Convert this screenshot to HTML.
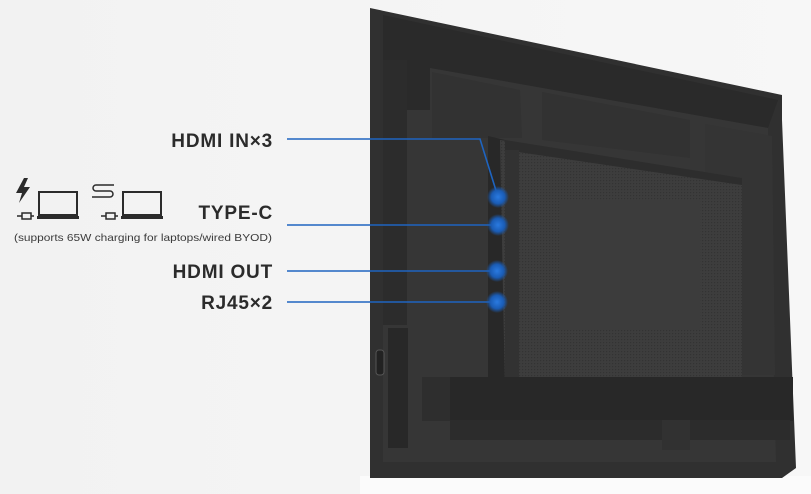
<!DOCTYPE html>
<html><head><meta charset="utf-8"><style>
html,body{margin:0;padding:0;width:811px;height:494px;overflow:hidden;background:#f3f3f3;}
svg{display:block}
</style></head><body>
<svg width="811" height="494" viewBox="0 0 811 494" xmlns="http://www.w3.org/2000/svg">
<defs>
<linearGradient id="bg" x1="0" y1="0" x2="1" y2="0"><stop offset="0" stop-color="#f2f2f2"/><stop offset="1" stop-color="#f7f7f7"/></linearGradient>
<pattern id="dots" width="3" height="3" patternUnits="userSpaceOnUse"><rect width="3" height="3" fill="#3d3d3d"/><rect width="1.2" height="1.2" fill="#333"/></pattern>
<radialGradient id="glow"><stop offset="0" stop-color="#2a7ae0"/><stop offset="0.6" stop-color="#1a5cb5"/><stop offset="1" stop-color="#1a5cb5" stop-opacity="0"/></radialGradient>
</defs>
<rect width="811" height="494" fill="url(#bg)"/>
<rect x="360" y="476" width="451" height="18" fill="#fbfbfb"/>
<polygon points="370,8 782,95 782,120 796,468 782,478 370,478" fill="#303030"/>
<polygon points="383,15 778,100 768,128 430,68 430,110 383,110" fill="#2a2a2a"/>
<polygon points="430,68 768,128 776,462 383,462 383,110 430,110" fill="#363636"/>
<polygon points="432,72 520,90 522,138 432,138" fill="#323232"/>
<polygon points="542,92 690,120 690,158 542,140" fill="#323232"/>
<polygon points="705,124 772,136 775,375 705,375" fill="#343434"/>
<rect x="383" y="60" width="24" height="265" fill="#2c2c2c"/>
<rect x="388" y="328" width="20" height="120" fill="#282828"/>
<rect x="376" y="350" width="8" height="25" rx="3" fill="#222" stroke="#555" stroke-width="1"/>
<polygon points="488,136 505,140 505,392 488,392" fill="#282828"/>
<polygon points="500,140 742,178 742,390 505,392" fill="url(#dots)"/>
<polygon points="505,140 742,178 742,185 505,150" fill="#2d2d2d"/>
<rect x="560" y="200" width="140" height="130" fill="#3c3c3c"/>
<rect x="505" y="150" width="14" height="240" fill="#323232"/>
<rect x="422" y="377" width="371" height="44" fill="#282828"/>
<rect x="422" y="377" width="28" height="44" fill="#2e2e2e"/>
<rect x="450" y="420" width="340" height="20" fill="#2c2c2c"/>
<rect x="662" y="420" width="28" height="30" fill="#313131"/>
<g stroke="#1e64c0" stroke-width="1.6" fill="none">
<polyline points="287,139 480,139 498,197"/>
<line x1="287" y1="225" x2="497" y2="225"/>
<line x1="287" y1="271" x2="497" y2="271"/>
<line x1="287" y1="302" x2="497" y2="302"/>
</g>
<g fill="url(#glow)">
<circle cx="498" cy="197" r="11"/><circle cx="498" cy="225" r="11"/><circle cx="497" cy="271" r="11"/><circle cx="497" cy="302" r="11"/>
</g>
<g font-family="Liberation Sans, sans-serif" font-weight="bold" font-size="19" fill="#2b2b2b" text-anchor="end" letter-spacing="0.8">
<text x="273" y="147">HDMI IN×3</text>
<text x="273" y="219">TYPE-C</text>
<text x="273" y="278">HDMI OUT</text>
<text x="273" y="309">RJ45×2</text>
</g>
<text x="14" y="241" font-family="Liberation Sans, sans-serif" font-size="10.5" fill="#3a3a3a" textLength="258" lengthAdjust="spacingAndGlyphs">(supports 65W charging for laptops/wired BYOD)</text>
<g fill="#2b2b2b" stroke="none">
<polygon points="24,178 16,193 22,193 19,203 30,187 24,187 28,178"/>
<rect x="39" y="192" width="38" height="23" fill="none" stroke="#2b2b2b" stroke-width="2"/>
<rect x="37" y="216" width="42" height="3"/>
<rect x="123" y="192" width="38" height="23" fill="none" stroke="#2b2b2b" stroke-width="2"/>
<rect x="121" y="216" width="42" height="3"/>
</g>
<g stroke="#2b2b2b" stroke-width="1.5" fill="none">
<rect x="22" y="213" width="9" height="6"/><line x1="17" y1="216" x2="22" y2="216"/><line x1="31" y1="216" x2="34" y2="216"/>
<rect x="106" y="213" width="9" height="6"/><line x1="101" y1="216" x2="106" y2="216"/><line x1="115" y1="216" x2="118" y2="216"/>
<path d="M114,185 H96 a3,3 0 0 0 0,6 H110 a3,3 0 0 1 0,6 H92"/>
</g>
</svg>
</body></html>
